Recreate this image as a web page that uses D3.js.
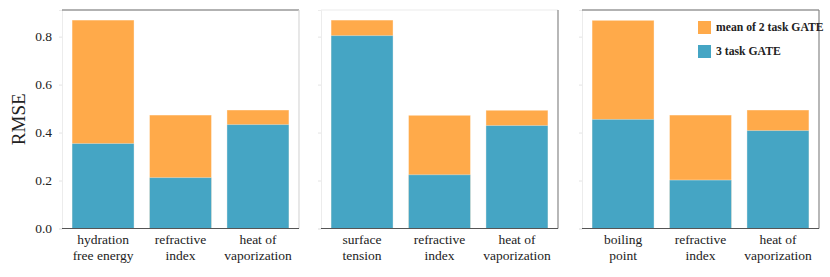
<!DOCTYPE html>
<html>
<head>
<meta charset="utf-8">
<script src="https://cdn.jsdelivr.net/npm/d3@7"></script>
<style>
  body { margin: 0; background: #fff; }
  text { font-family: "Liberation Serif", "DejaVu Serif", serif; fill: #222; }
</style>
</head>
<body>
<div id="wrapper"></div>
<script>
// one array of categories and two series per panel
const categories1 = [["hydration", "free energy"], ["refractive", "index"], ["heat of", "vaporization"]]
const categories2 = [["surface", "tension"], ["refractive", "index"], ["heat of", "vaporization"]]
const categories3 = [["boiling", "point"], ["refractive", "index"], ["heat of", "vaporization"]]

const meanTwoTask1 = [0.869, 0.473, 0.494]
const meanTwoTask2 = [0.869, 0.472, 0.493]
const meanTwoTask3 = [0.868, 0.473, 0.494]

const threeTask1 = [0.354, 0.212, 0.433]
const threeTask2 = [0.804, 0.224, 0.429]
const threeTask3 = [0.455, 0.202, 0.408]

const yTicks = [0, 0.2, 0.4, 0.6, 0.8]
const legendLabels = ["mean of 2 task GATE", "3 task GATE"]

const orange = "#ffaa4a"
const blue = "#45a5c4"

const panels = [
  { cats: categories1, mean: meanTwoTask1, three: threeTask1, x0: 62, top: "#666", right: "#d8d8d8" },
  { cats: categories2, mean: meanTwoTask2, three: threeTask2, x0: 321, top: "#ececec", right: "#888" },
  { cats: categories3, mean: meanTwoTask3, three: threeTask3, x0: 582, top: "#666", right: "#888" },
]

const dimensions = {
  width: 830,
  height: 277,
  panelWidth: 237,
  top: 10,
  bottom: 228.5,
}

const svg = d3.select("#wrapper")
  .append("svg")
    .attr("width", dimensions.width)
    .attr("height", dimensions.height)

const yScale = d3.scaleLinear()
  .domain([0, 0.911])
  .range([dimensions.bottom, dimensions.top])

panels.forEach((p, pi) => {
  const g = svg.append("g")

  const xScale = d3.scaleBand()
    .domain(d3.range(p.cats.length))
    .range([p.x0, p.x0 + dimensions.panelWidth])
    .paddingInner(0.2)
    .paddingOuter(0.13)

  // y axis
  const yAxis = g.append("g")
    .attr("transform", `translate(${p.x0},0)`)
    .call(d3.axisLeft(yScale).tickValues(yTicks).tickSize(3).tickFormat(pi === 0 ? d3.format(".1f") : ""))
  yAxis.select(".domain").attr("stroke", "#ececec")
  yAxis.selectAll(".tick line").attr("stroke", "#e4e4e4")
  yAxis.selectAll(".tick text")
    .attr("x", -10)
    .style("font-size", "13.5px")
    .style("font-family", "Liberation Serif, serif")
    .attr("fill", "#222")

  // frame
  g.append("line")
    .attr("x1", p.x0).attr("x2", p.x0 + dimensions.panelWidth)
    .attr("y1", dimensions.top).attr("y2", dimensions.top)
    .attr("stroke", p.top).attr("stroke-width", 1.2)
  g.append("line")
    .attr("x1", p.x0 + dimensions.panelWidth).attr("x2", p.x0 + dimensions.panelWidth)
    .attr("y1", dimensions.top).attr("y2", dimensions.bottom)
    .attr("stroke", p.right).attr("stroke-width", 1.2)

  // orange bars (mean of 2 task), blue bars in front
  g.selectAll(".mean")
    .data(p.mean)
    .join("rect")
      .attr("x", (d, i) => xScale(i))
      .attr("width", xScale.bandwidth())
      .attr("y", d => yScale(d))
      .attr("height", d => yScale(0) - yScale(d))
      .attr("fill", orange)
      .attr("stroke", "rgba(255,255,255,0.45)")
      .attr("stroke-width", 0.8)

  g.selectAll(".three")
    .data(p.three)
    .join("rect")
      .attr("x", (d, i) => xScale(i))
      .attr("width", xScale.bandwidth())
      .attr("y", d => yScale(d))
      .attr("height", d => yScale(0) - yScale(d))
      .attr("fill", blue)
      .attr("stroke", "rgba(255,255,255,0.45)")
      .attr("stroke-width", 0.8)

  // bottom axis
  g.append("line")
    .attr("x1", p.x0).attr("x2", p.x0 + dimensions.panelWidth)
    .attr("y1", dimensions.bottom).attr("y2", dimensions.bottom)
    .attr("stroke", "#555").attr("stroke-width", 1.2)

  p.cats.forEach((lines, i) => {
    const t = g.append("text")
      .attr("text-anchor", "middle")
      .style("font-size", "13.5px")
    lines.forEach((line, j) => {
      t.append("tspan")
        .attr("x", xScale(i) + xScale.bandwidth() / 2)
        .attr("y", 243.5 + j * 16)
        .text(line)
    })
  })
})

svg.append("text")
  .attr("transform", `translate(25,${(dimensions.top + dimensions.bottom) / 2}) rotate(-90)`)
  .attr("text-anchor", "middle")
  .style("font-size", "19px")
  .text("RMSE")

// legend
const legend = svg.append("g")
  .attr("transform", "translate(698,21)")
legendLabels.forEach((label, i) => {
  legend.append("rect")
    .attr("x", 0)
    .attr("y", i * 24)
    .attr("width", 13)
    .attr("height", 13)
    .attr("fill", i === 0 ? orange : blue)
  legend.append("text")
    .attr("x", 18)
    .attr("y", i * 24 + 10)
    .style("font-size", "11.7px")
    .style("font-weight", "bold")
    .text(label)
})
</script>
</body>
</html>
